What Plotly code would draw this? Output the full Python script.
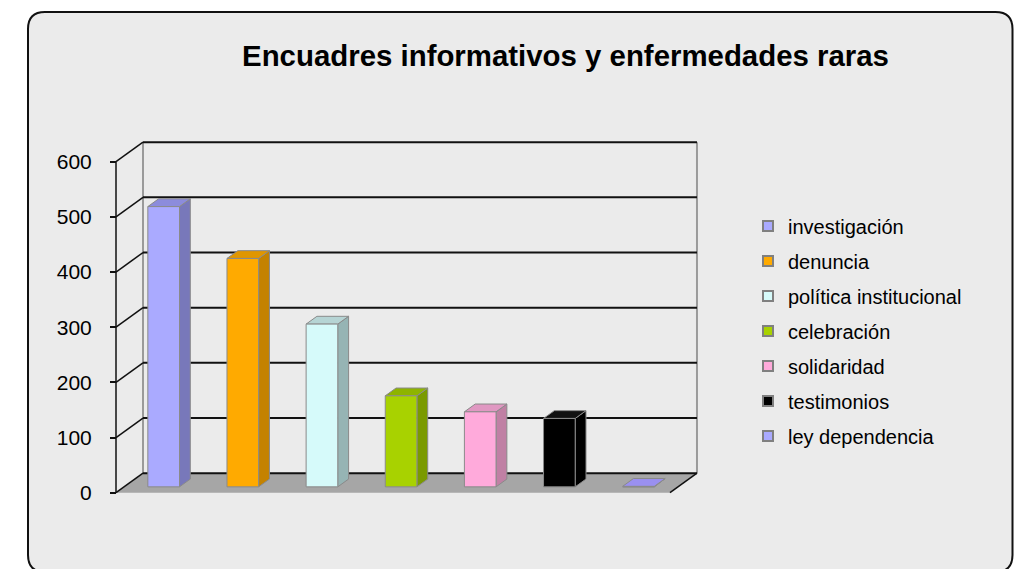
import plotly.graph_objects as go

# ---------------- data ----------------
categories = ["investigación", "denuncia", "política institucional", "celebración",
              "solidaridad", "testimonios", "ley dependencia"]
values = [508, 414, 295, 165, 136, 124, 1]
front_colors = ["#aaaaff", "#ffaa00", "#d6fafa", "#a8d200", "#ffaadb", "#000000", "#aaaaff"]
side_colors = ["#7878ba", "#c48200", "#96b4b4", "#7a9a00", "#c080a4", "#000000", "#7878ba"]
top_colors = ["#8c8cdc", "#e09600", "#b6d4d4", "#8eb400", "#e098c2", "#111111", "#9a90f0"]
y_ticks = [0, 100, 200, 300, 400, 500, 600]

# ---------------- geometry / style ----------------
W, H = 1014, 569
PX_CAT = 79.14          # pixels per category slot
PX_VAL = 0.5517         # pixels per value unit
AX_X, AX_Y0 = 116, 492.7  # pixel position of front axis origin
DEPTH_PX = (27.0, 19.5)
L, R, T, B = 40, 740, 100, 520  # plot area in pixels

DX = DEPTH_PX[0] / PX_CAT
DY = DEPTH_PX[1] / PX_VAL
N = len(categories)
GAP, BW = 0.3, 0.4       # bar slot offset/width
D0, DD = 0.3, 0.4        # bar depth start/size
FONT = "Liberation Sans, Arial, Helvetica, sans-serif"


def px2x(px):
    return (px - L) / (R - L)


def py2y(py):
    return (B - py) / (B - T)


fig = go.Figure()

# floor
fig.add_trace(go.Scatter(
    x=[0, DX, N + DX, N, 0], y=[0, DY, DY, 0, 0], fill="toself",
    fillcolor="#a6a6a6", line=dict(width=0), mode="lines",
    showlegend=False, hoverinfo="skip"))

# back wall vertical edges
vmax = max(y_ticks)
fig.add_trace(go.Scatter(
    x=[DX, DX, None, N + DX, N + DX], y=[DY, vmax + DY, None, DY, vmax + DY],
    mode="lines", line=dict(color="#9a9a9a", width=2),
    showlegend=False, hoverinfo="skip"))

# gridlines on back wall + diagonals on side wall
gx, gy, sx, sy = [], [], [], []
for v in y_ticks:
    gx += [DX, N + DX, None]
    gy += [v + DY, v + DY, None]
    sx += [0, DX, None]
    sy += [v, v + DY, None]
fig.add_trace(go.Scatter(x=gx, y=gy, mode="lines", line=dict(color="#111111", width=2),
                         showlegend=False, hoverinfo="skip"))
fig.add_trace(go.Scatter(x=sx, y=sy, mode="lines", line=dict(color="#111111", width=1.5),
                         showlegend=False, hoverinfo="skip"))
# floor right diagonal and front axis line
fig.add_trace(go.Scatter(x=[N, N + DX], y=[0, DY], mode="lines",
                         line=dict(color="#111111", width=1.5),
                         showlegend=False, hoverinfo="skip"))
fig.add_trace(go.Scatter(x=[0, 0], y=[0, vmax], mode="lines",
                         line=dict(color="#111111", width=1.5),
                         showlegend=False, hoverinfo="skip"))

# bars (3D look)
for i, (cat, v) in enumerate(zip(categories, values)):
    x0 = i + GAP + D0 * DX
    x1 = x0 + BW
    yb = D0 * DY
    yt = v + yb
    ddx, ddy = DD * DX, DD * DY
    edge = "#8a8a8a"
    faces = [
        ([x1, x1 + ddx, x1 + ddx, x1, x1], [yb, yb + ddy, yt + ddy, yt, yb], side_colors[i]),
        ([x0, x1, x1 + ddx, x0 + ddx, x0], [yt, yt, yt + ddy, yt + ddy, yt], top_colors[i]),
        ([x0, x1, x1, x0, x0], [yb, yb, yt, yt, yb], front_colors[i]),
    ]
    for fx, fy, fc in faces:
        fig.add_trace(go.Scatter(
            x=fx, y=fy, fill="toself", fillcolor=fc, mode="lines",
            line=dict(color=edge, width=1), showlegend=False,
            hoverinfo="skip"))

# legend entries
for i, cat in enumerate(categories):
    fig.add_trace(go.Scatter(
        x=[None], y=[None], mode="markers", name=cat, legendgroup=cat,
        marker=dict(symbol="square", size=10, color=front_colors[i],
                    line=dict(color="#808080", width=2))))

# frame (rounded rectangle)
fx0, fy0, fx1, fy1, rr = 28, 12, 1012.5, 572, 17


def P(px, py):
    return f"{px2x(px):.5f},{py2y(py):.5f}"


path = (f"M {P(fx0 + rr, fy0)} L {P(fx1 - rr, fy0)} Q {P(fx1, fy0)} {P(fx1, fy0 + rr)} "
        f"L {P(fx1, fy1 - rr)} Q {P(fx1, fy1)} {P(fx1 - rr, fy1)} "
        f"L {P(fx0 + rr, fy1)} Q {P(fx0, fy1)} {P(fx0, fy1 - rr)} "
        f"L {P(fx0, fy0 + rr)} Q {P(fx0, fy0)} {P(fx0 + rr, fy0)} Z")

fig.update_layout(
    width=W, height=H,
    margin=dict(l=L, r=W - R, t=T, b=H - B, autoexpand=False),
    paper_bgcolor="white", plot_bgcolor="rgba(0,0,0,0)",
    font=dict(family=FONT, color="black"),
    title=dict(text="Encuadres informativos y enfermedades raras",
               font=dict(size=29.4, weight="bold", family=FONT, color="black"),
               x=565.5 / W, xanchor="center", xref="container",
               y=1 - 56 / H, yanchor="middle", yref="container"),
    xaxis=dict(range=[(L - AX_X) / PX_CAT, (R - AX_X) / PX_CAT], visible=False,
               fixedrange=True),
    yaxis=dict(range=[(AX_Y0 - B) / PX_VAL, (AX_Y0 - T) / PX_VAL],
               tickvals=y_ticks, ticks="outside", ticklen=6, tickwidth=1.5,
               tickcolor="#111111", showgrid=False, zeroline=False, showline=False,
               anchor="free", position=px2x(AX_X), ticklabelstandoff=14,
               tickfont=dict(size=21, family=FONT, color="black"), fixedrange=True),
    legend=dict(x=px2x(748), y=py2y(206.5), xanchor="left", yanchor="top",
                font=dict(size=20, family=FONT, color="black"),
                bgcolor="rgba(0,0,0,0)", tracegroupgap=6, traceorder="grouped"),
    shapes=[dict(type="path", path=path, xref="paper", yref="paper",
                 fillcolor="#ebebeb", line=dict(color="#111111", width=2),
                 layer="below")],
)

fig.write_html("out.html", config={"displayModeBar": False},
               post_script="document.body.style.margin='0';")
